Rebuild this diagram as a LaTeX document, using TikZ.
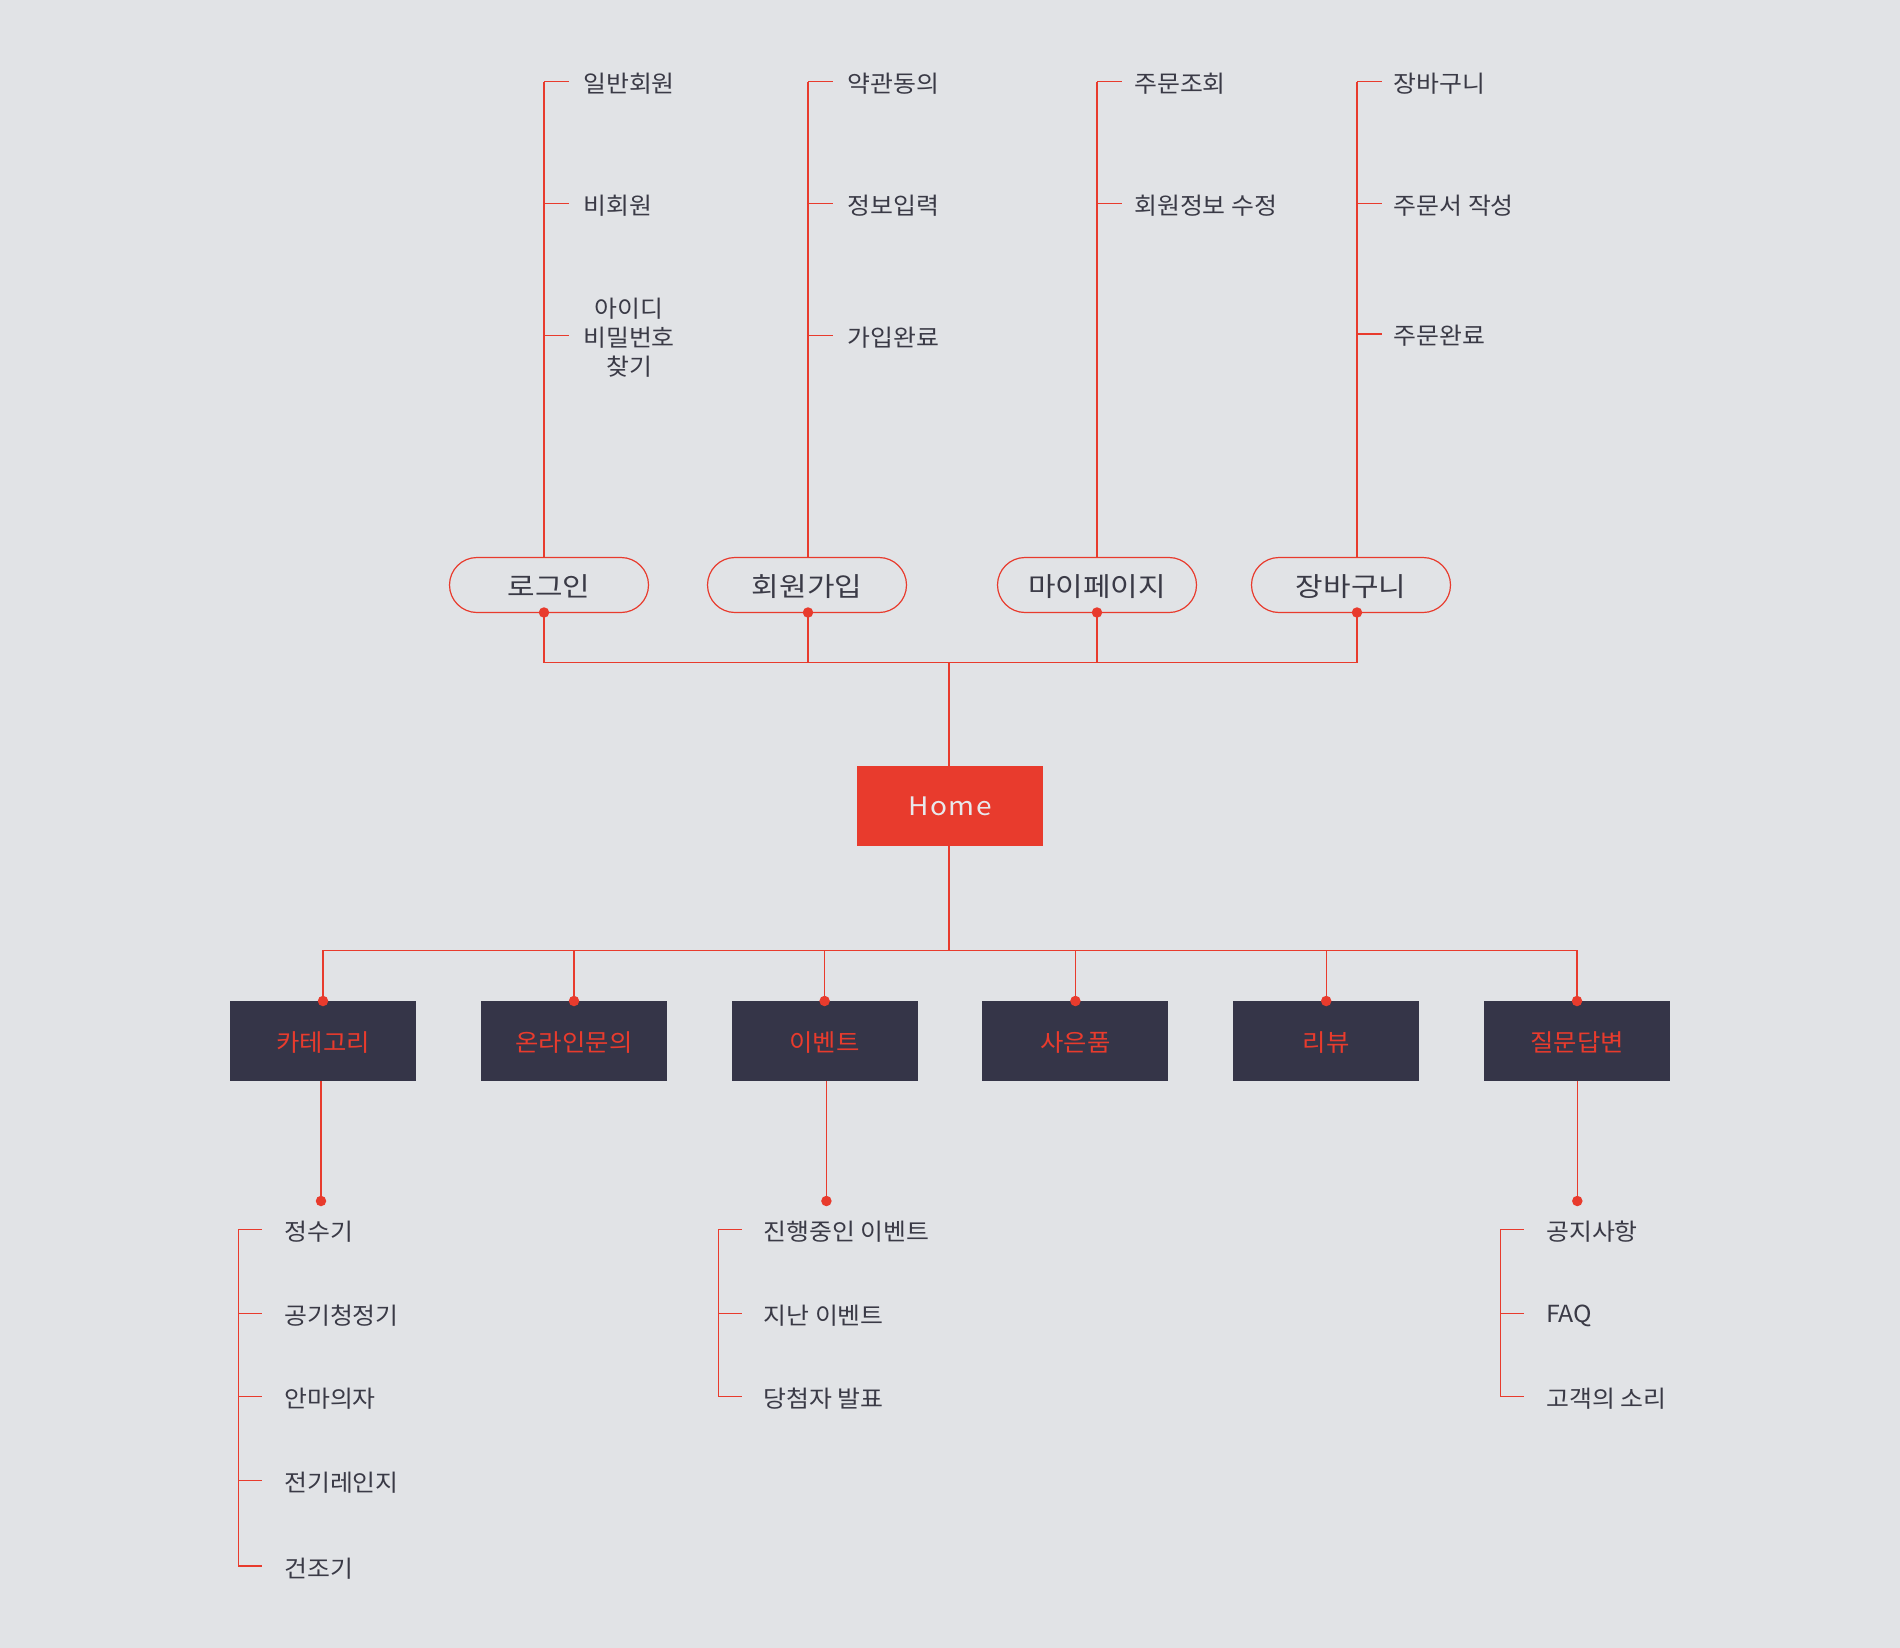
\documentclass[tikz,border=0pt]{standalone}
\usepackage{fontspec}
\setmainfont{Noto Sans CJK KR}[FakeStretch=1.06]
\newfontfamily\pillfont{Noto Sans CJK KR}[FakeStretch=1.13]
\newfontfamily\homefont{Noto Sans CJK KR}[LetterSpace=6,FakeStretch=1.1]
\usetikzlibrary{shapes.misc}
\definecolor{bg}{RGB}{225,227,230}
\definecolor{accent}{RGB}{232,59,45}
\definecolor{navy}{RGB}{53,53,72}
\definecolor{ink}{RGB}{58,58,70}
\definecolor{hometext}{RGB}{232,232,235}
\newcommand{\lowertext}[2]{\raisebox{-#1}[\height][\depth]{#2}}
\begin{document}
\begin{tikzpicture}[x=1pt,y=-1pt,
  link/.style={draw=accent,line width=1.2pt},
  pill/.style={rounded rectangle,draw=accent,line width=1.2pt,minimum width=199pt,minimum height=55pt,inner sep=0pt,text=ink,font=\pillfont\fontsize{26.5}{30}\selectfont},
  menubox/.style={fill=navy,minimum width=186pt,minimum height=80pt,inner sep=0pt,text=accent,font=\fontsize{24}{28}\selectfont},
  homebox/.style={fill=accent,minimum width=186pt,minimum height=80pt,inner sep=0pt,text=hometext,font=\homefont\fontsize{25.5}{30}\selectfont},
  item/.style={anchor=west,inner sep=0pt,text=ink,font=\fontsize{23.5}{29}\selectfont},
  itemc/.style={align=center,inner sep=0pt,text=ink,font=\fontsize{23.5}{29}\selectfont},
  dot/.style={circle,fill=accent,inner sep=0pt,minimum size=10.5pt}
]
\useasboundingbox[fill=bg] (0,0) rectangle (1900,1648);

% ---------- main nodes ----------
\node[homebox] (home) at (950,806) {Home};

\node[pill] (login) at (549,585) {\lowertext{1.5pt}{로그인}};
\node[pill] (join) at (807,585) {\lowertext{1.5pt}{회원가입}};
\node[pill] (mypage) at (1097,585) {\lowertext{1.5pt}{마이페이지}};
\node[pill] (cart) at (1351,585) {\lowertext{1.5pt}{장바구니}};

\node[menubox] (cat) at (323,1041) {\lowertext{1.2pt}{카테고리}};
\node[menubox] (qna1) at (574,1041) {\lowertext{1.2pt}{온라인문의}};
\node[menubox] (event) at (824.6,1041) {\lowertext{1.2pt}{이벤트}};
\node[menubox] (gift) at (1075.4,1041) {\lowertext{1.2pt}{사은품}};
\node[menubox] (review) at (1326.2,1041) {\lowertext{1.2pt}{리뷰}};
\node[menubox] (qna) at (1577,1041) {\lowertext{1.2pt}{질문답변}};

% ---------- upper bus ----------
\coordinate (loginB) at (544,612.5);
\coordinate (joinB) at (808,612.5);
\coordinate (mypageB) at (1097,612.5);
\coordinate (cartB) at (1357,612.5);
\coordinate (busU) at (949,662.3);
\draw[link] (loginB) -- (loginB |- busU) -- (cartB |- busU) -- (cartB);
\draw[link] (joinB) -- (joinB |- busU);
\draw[link] (mypageB) -- (mypageB |- busU);
\draw[link] (busU) -- (busU |- home.north);

% ---------- lower bus ----------
\coordinate (busL) at (949,950.3);
\coordinate (catT) at (323,1001);
\coordinate (qna1T) at (574,1001);
\coordinate (eventT) at (824.6,1001);
\coordinate (giftT) at (1075.4,1001);
\coordinate (reviewT) at (1326.2,1001);
\coordinate (qnaT) at (1577,1001);
\draw[link] (busL |- home.south) -- (busL);
\draw[link] (catT) -- (catT |- busL) -- (qnaT |- busL) -- (qnaT);
\foreach \n in {qna1T,eventT,giftT,reviewT}{\draw[link] (\n) -- (\n |- busL);}
\foreach \n in {catT,qna1T,eventT,giftT,reviewT,qnaT}{\node[dot] at (\n) {};}
\foreach \n in {loginB,joinB,mypageB,cartB}{\node[dot] at (\n) {};}

% ---------- upper lists ----------
% login
\coordinate (lgTop) at (544,81.7);
\draw[link] (lgTop) -- (lgTop |- login.north);
\node[item] (lg1) at (583,84) {일반회원};
\node[item] (lg2) at (583,205.5) {비회원};
\node[itemc] (lg3) at (629,337.5) {아이디\\비밀번호\\찾기};
\coordinate (lg1t) at (544,81.7);
\coordinate (lg2t) at (544,203.3);
\coordinate (lg3t) at (544,335.3);
\foreach \t in {lg1t,lg2t,lg3t}{\draw[link] (\t) -- ++(24.5,0);}

% join
\coordinate (jnTop) at (808,81.7);
\draw[link] (jnTop) -- (jnTop |- join.north);
\node[item] (jn1) at (847.5,84) {약관동의};
\node[item] (jn2) at (847.5,205.5) {정보입력};
\node[item] (jn3) at (847.5,337.5) {가입완료};
\coordinate (jn1t) at (808,81.7);
\coordinate (jn2t) at (808,203.3);
\coordinate (jn3t) at (808,335.3);
\foreach \t in {jn1t,jn2t,jn3t}{\draw[link] (\t) -- ++(24.5,0);}

% mypage
\coordinate (mpTop) at (1097,81.7);
\draw[link] (mpTop) -- (mpTop |- mypage.north);
\node[item] (mp1) at (1134,84) {주문조회};
\node[item] (mp2) at (1134,205.5) {회원정보 수정};
\coordinate (mp1t) at (1097,81.7);
\coordinate (mp2t) at (1097,203.3);
\foreach \t in {mp1t,mp2t}{\draw[link] (\t) -- ++(24.5,0);}

% cart
\coordinate (ctTop) at (1357,81.7);
\draw[link] (ctTop) -- (ctTop |- cart.north);
\node[item] (ct1) at (1393.5,84) {장바구니};
\node[item] (ct2) at (1393.5,205.5) {주문서 작성};
\node[item] (ct3) at (1393.5,336) {주문완료};
\coordinate (ct1t) at (1357,81.7);
\coordinate (ct2t) at (1357,203.3);
\coordinate (ct3t) at (1357,334);
\foreach \t in {ct1t,ct2t,ct3t}{\draw[link] (\t) -- ++(24.5,0);}

% ---------- lower stems ----------
\coordinate (catD) at (321,1201);
\coordinate (eventD) at (826.4,1201);
\coordinate (qnaD) at (1577.3,1201);
\draw[link] (catD |- cat.south) -- (catD);
\draw[link] (eventD |- event.south) -- (eventD);
\draw[link] (qnaD |- qna.south) -- (qnaD);
\foreach \n in {catD,eventD,qnaD}{\node[dot] at (\n) {};}

% ---------- lower lists ----------
% category
\node[item] (c1) at (284,1231.5) {정수기};
\node[item] (c2) at (284,1315.5) {공기청정기};
\node[item] (c3) at (284,1398.5) {안마의자};
\node[item] (c4) at (284,1482.5) {전기레인지};
\node[item] (c5) at (284,1568.5) {건조기};
\coordinate (c1t) at (238.3,1229.3);
\coordinate (c2t) at (238.3,1313.3);
\coordinate (c3t) at (238.3,1396.3);
\coordinate (c4t) at (238.3,1480.3);
\coordinate (c5t) at (238.3,1566);
\draw[link] ([xshift=23.4pt]c1t) -- (c1t) -- (c5t) -- ([xshift=23.4pt]c5t);
\foreach \t in {c2t,c3t,c4t}{\draw[link] (\t) -- ++(23.4,0);}

% event
\node[item] (e1) at (763.4,1231.5) {진행중인 이벤트};
\node[item] (e2) at (763.4,1315.5) {지난 이벤트};
\node[item] (e3) at (763.4,1398.5) {당첨자 발표};
\coordinate (e1t) at (718.5,1229.3);
\coordinate (e2t) at (718.5,1313.3);
\coordinate (e3t) at (718.5,1396.3);
\draw[link] ([xshift=23.4pt]e1t) -- (e1t) -- (e3t) -- ([xshift=23.4pt]e3t);
\draw[link] (e2t) -- ++(23.4,0);

% qna
\node[item] (q1) at (1546,1231.5) {공지사항};
\node[item] (q2) at (1546,1315.5) {FAQ};
\node[item] (q3) at (1546,1398.5) {고객의 소리};
\coordinate (q1t) at (1500.3,1229.3);
\coordinate (q2t) at (1500.3,1313.3);
\coordinate (q3t) at (1500.3,1396.3);
\draw[link] ([xshift=23.4pt]q1t) -- (q1t) -- (q3t) -- ([xshift=23.4pt]q3t);
\draw[link] (q2t) -- ++(23.4,0);
\end{tikzpicture}
\end{document}
